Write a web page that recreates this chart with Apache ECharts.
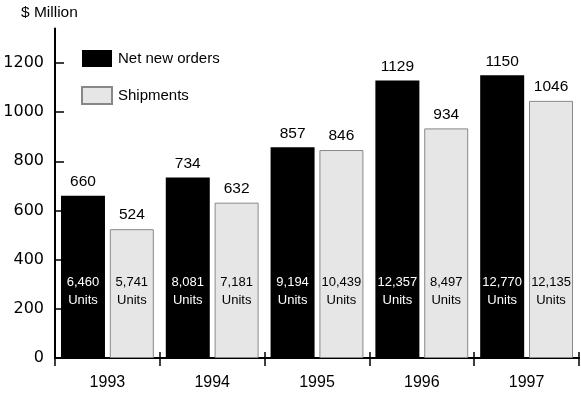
<!DOCTYPE html>
<html>
<head>
<meta charset="utf-8">
<script src="https://cdn.jsdelivr.net/npm/echarts@6/dist/echarts.min.js"></script>
<style>
html,body{margin:0;padding:0;background:#fff;}
#chart{width:581px;height:394px;}
</style>
</head>
<body>
<div id="chart"></div>
<script>
var years = ['1993', '1994', '1995', '1996', '1997'];
var netNewOrders = [660, 734, 857, 1129, 1150];
var shipments = [524, 632, 846, 934, 1046];
var orderUnits = ['6,460', '8,081', '9,194', '12,357', '12,770'];
var shipmentUnits = ['5,741', '7,181', '10,439', '8,497', '12,135'];
var yTicks = [0, 200, 400, 600, 800, 1000, 1200];

var chart = echarts.init(document.getElementById('chart'), null, {renderer: 'canvas'});
var barW = 44, gap = '11%';
var SANS = '"Liberation Sans", Arial, sans-serif';
var unitLabel = function (units, color) {
  return {
    show: true,
    position: 'insideBottom',
    distance: 49,
    color: color,
    fontFamily: SANS,
    fontSize: 13,
    lineHeight: 18,
    formatter: function (p) { return units[p.dataIndex] + '\nUnits'; }
  };
};
var option = {
  animation: false,
  backgroundColor: '#fff',
  title: {
    text: '$ Million', left: 21, top: 5, padding: 0,
    textStyle: {fontFamily: SANS, fontSize: 15.5, fontWeight: 'normal', color: '#000'}
  },
  legend: {
    data: ['Net new orders', 'Shipments'],
    orient: 'vertical', left: 81, top: 50, padding: 0,
    icon: 'rect',
    itemWidth: 30, itemHeight: 17, itemGap: 19,
    textStyle: {fontFamily: SANS, fontSize: 15, color: '#000', padding: [0, 0, 0, 1]}
  },
  grid: {left: 55, right: 2, top: 28.6, bottom: 36, containLabel: false},
  xAxis: [{
    type: 'category', data: years, position: 'bottom',
    axisLine: {show: true, lineStyle: {color: '#000', width: 2}},
    axisTick: {show: true, length: 8, lineStyle: {color: '#000', width: 1.5}},
    axisLabel: {margin: 17, color: '#000', fontFamily: SANS, fontSize: 16}
  }, {
    type: 'category', data: years, position: 'bottom',
    axisLine: {show: false},
    axisTick: {show: true, inside: true, length: 6, lineStyle: {color: '#000', width: 1.5}},
    axisLabel: {show: false}
  }],
  yAxis: {
    type: 'value', min: 0, max: 1340, interval: 200,
    splitLine: {show: false},
    axisLine: {show: true, lineStyle: {color: '#000', width: 2}},
    axisTick: {show: true, inside: true, length: 9, customValues: yTicks, lineStyle: {color: '#000', width: 1.5}},
    axisLabel: {
      customValues: yTicks, margin: 11, color: '#000',
      fontFamily: '"DejaVu Sans", sans-serif', fontSize: 16,
      formatter: function (v) { return String(v); }
    }
  },
  series: [{
    name: 'Net new orders', type: 'bar', xAxisIndex: 0, data: netNewOrders,
    barWidth: barW, barGap: gap,
    itemStyle: {color: '#000'},
    label: {show: true, position: 'top', distance: 6, color: '#000', fontFamily: SANS, fontSize: 15.5}
  }, {
    name: 'Shipments', type: 'bar', xAxisIndex: 0, data: shipments,
    barWidth: barW, barGap: gap,
    itemStyle: {color: '#e6e6e6', borderColor: '#888', borderWidth: 1},
    label: {show: true, position: 'top', distance: 6, color: '#000', fontFamily: SANS, fontSize: 15.5}
  }, {
    name: 'orderUnits', type: 'bar', xAxisIndex: 1, data: netNewOrders,
    barWidth: barW, barGap: gap, silent: true, z: 5,
    itemStyle: {color: 'rgba(0,0,0,0)'},
    label: unitLabel(orderUnits, '#fff')
  }, {
    name: 'shipmentUnits', type: 'bar', xAxisIndex: 1, data: shipments,
    barWidth: barW, barGap: gap, silent: true, z: 5,
    itemStyle: {color: 'rgba(0,0,0,0)'},
    label: unitLabel(shipmentUnits, '#000')
  }]
};
chart.setOption(option);
</script>
</body>
</html>
